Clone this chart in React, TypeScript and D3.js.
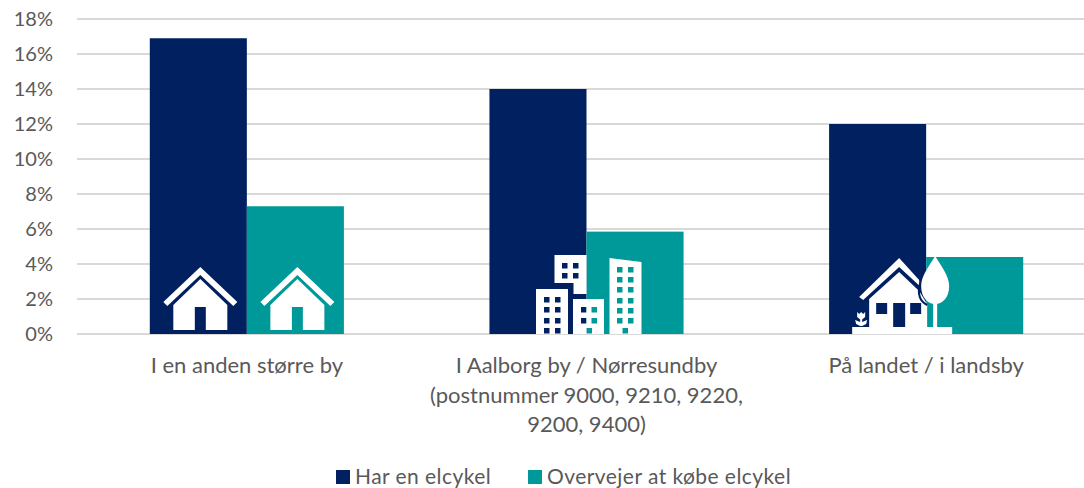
import React from 'react';
import * as d3 from 'd3';

const categories = ['I en anden større by', 'I Aalborg by / Nørresundby', 'På landet / i landsby'];
const categoryLines = [
  ['I en anden større by'],
  ['I Aalborg by / Nørresundby', '(postnummer 9000, 9210, 9220,', '9200, 9400)'],
  ['På landet / i landsby'],
];
const seriesNames = ['Har en elcykel', 'Overvejer at købe elcykel'];
const seriesColors = ['#002060', '#009999'];
const harEnElcykel = [16.9, 14, 12];
const overvejer = [7.3, 5.85, 4.4];
const seriesValues = [harEnElcykel, overvejer];
const yTicks = [0, 2, 4, 6, 8, 10, 12, 14, 16, 18];

const width = 1084;
const height = 488;
const fontFamily = 'Lato, "Open Sans", sans-serif';
const textColor = '#595959';
const gridColor = '#d9d9d9';

const xScale = d3.scaleBand<string>().domain(categories).range([77, 1096]).paddingInner(0.4285).paddingOuter(0.2143);
const seriesScale = d3.scaleBand<string>().domain(seriesNames).range([0, xScale.bandwidth()]);
const yScale = d3.scaleLinear().domain([0, 18]).range([334, 19]);

// small helper for the icon holes
const box = (x: number, y: number, w: number, h: number) => `M${x},${y}h${w}v${h}h${-w}Z`;

// icons are drawn around (0,0) = middle of the group at the baseline
const House = ({ x, y }: { x: number; y: number }) => (
  <g transform={`translate(${x},${y})`} fill="#fff">
    <path d="M0,-67L37,-32L33,-28L0,-59L-33,-28L-37,-32Z" />
    <path d="M0,-55L27,-29V-4H5.5V-27H-5.5V-4H-27V-29Z" />
  </g>
);

const windowsAt = (xs: number[], ys: number[]) =>
  xs.map(wx => ys.map(wy => box(wx, wy, 5.5, 5.5)).join('')).join('');

const City = ({ x, y }: { x: number; y: number }) => (
  <g transform={`translate(${x},${y})`} fill="#fff">
    <path fillRule="evenodd" d={'M-32,-79H0V-40H-13V-51H-32Z' + windowsAt([-24.5, -13.5], [-71, -61])} />
    <path
      fillRule="evenodd"
      d={
        box(-50.5, -45, 32, 45) +
        windowsAt([-42.5, -31.5], [-37, -27, -16, -6]) +
        box(-13.5, -35, 31, 35) +
        windowsAt([-5.5, 5], [-27, -16]) +
        box(0, -6, 5.5, 5.5) +
        'M23,-76L55,-72V0H23Z' +
        windowsAt([30.5, 41.5], [-67, -57, -47, -36, -26, -16]) +
        box(36, -6, 5.5, 5.5)
      }
    />
  </g>
);

const Farm = ({ x, y }: { x: number; y: number }) => (
  <g transform={`translate(${x},${y})`} fill="#fff">
    {/* roof */}
    <path d="M-27,-76L-67,-37L-63,-34L-27,-67L-7,-48.5L-7,-54Z" />
    {/* body with door and windows */}
    <path
      fillRule="evenodd"
      d={'M-27,-62L-57,-35V-7H1V-30L-7,-43Z' + box(-50, -31, 11, 11) + box(-33, -31, 12, 24) + box(-16, -31, 11, 11)}
    />
    {/* base */}
    <path d={box(-74, -7, 100, 7)} />
    {/* flower */}
    <path d="M-69,-22L-67,-20L-65,-22L-63,-20L-61,-22L-61,-17L-64,-14.5V-12L-59,-14L-60,-10L-64,-8H-66L-70,-10L-71,-14L-66,-12V-14.5L-69,-17Z" />
    {/* tree with dark outline on the navy side */}
    <path d="M-6,-51C-9,-40 -7,-33 1,-29" fill="none" stroke="#002060" strokeWidth={2} />
    <path d="M9,-78C3,-68 -5,-58 -5,-48C-5,-36 2,-30 9,-30C16,-30 23,-36 23,-48C23,-58 15,-68 9,-78Z" />
    <path d={box(7, -32, 4, 26)} />
  </g>
);

const icons = [House, City, Farm];

export default function App() {
  return (
    <svg
      width={width}
      height={height}
      viewBox={`0 0 ${width} ${height}`}
      style={{ position: 'absolute', left: 0, top: 0 }}
      fontFamily={fontFamily}
      fontSize={22}
      fill={textColor}
    >
      <rect width={width} height={height} fill="#fff" />
      {yTicks.map(t => (
        <g key={t}>
          <line x1={77} x2={width} y1={yScale(t)} y2={yScale(t)} stroke={gridColor} strokeWidth={2} />
          <text x={53} y={yScale(t) - 1} textAnchor="end" dominantBaseline="central" fontSize={20}>
            {t}%
          </text>
        </g>
      ))}
      {categories.map((c, i) => (
        <g key={c} transform={`translate(${xScale(c)},0)`}>
          {seriesNames.map((s, j) => (
            <rect
              key={s}
              x={seriesScale(s)}
              y={yScale(seriesValues[j][i])}
              width={seriesScale.bandwidth()}
              height={yScale(0) - yScale(seriesValues[j][i])}
              fill={seriesColors[j]}
            />
          ))}
        </g>
      ))}
      {/* two houses on the first group, one scene on each of the others */}
      <House x={(xScale(categories[0]) as number) + seriesScale.bandwidth() / 2 + 2} y={yScale(0)} />
      <House x={(xScale(categories[0]) as number) + seriesScale.bandwidth() * 1.5 + 2} y={yScale(0)} />
      {categories.slice(1).map((c, i) => {
        const Icon = icons[i + 1];
        return <Icon key={c} x={(xScale(c) as number) + xScale.bandwidth() / 2} y={yScale(0)} />;
      })}
      {categories.map((c, i) =>
        categoryLines[i].map((line, k) => (
          <text
            key={line}
            x={(xScale(c) as number) + xScale.bandwidth() / 2}
            y={364.5 + k * 29.5}
            textAnchor="middle"
            dominantBaseline="central"
          >
            {line}
          </text>
        ))
      )}
      {seriesNames.map((s, j) => {
        const lx = [336, 528][j];
        return (
          <g key={s}>
            <rect x={lx} y={470} width={14} height={14} fill={seriesColors[j]} />
            <text x={lx + 19} y={475.2} dominantBaseline="central" fontSize={21} letterSpacing={0.45}>
              {s}
            </text>
          </g>
        );
      })}
    </svg>
  );
}
